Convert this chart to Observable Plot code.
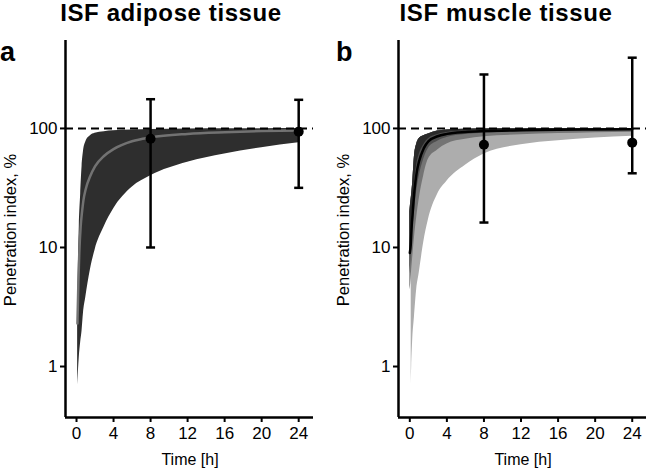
<!DOCTYPE html>
<html>
<head>
<meta charset="utf-8">
<script src="https://cdn.jsdelivr.net/npm/d3@7"></script>
<script src="https://cdn.jsdelivr.net/npm/@observablehq/plot@0.6"></script>
<style>
  html, body { margin: 0; padding: 0; background: #fff; }
  #wrap { position: relative; width: 649px; height: 473px; overflow: hidden; font-family: "Liberation Sans", Arial, sans-serif; }
  #wrap svg.panel { position: absolute; top: 0; }
  #labels { position: absolute; left: 0; top: 0; pointer-events: none; }
</style>
</head>
<body>
<div id="wrap"></div>
<script>
// ---------- data ----------
const xTicks = [0, 4, 8, 12, 16, 20, 24];
const yTicks = [1, 10, 100];
const yDomain = [0.373, 548];

const titles = ["ISF adipose tissue", "ISF muscle tissue"];
const panelLetters = ["a", "b"];
const yLabel = "Penetration index, %";
const xLabel = "Time [h]";

// Panel a: prediction band and median
const timeA   = [0.12, 0.2, 0.3, 0.45, 0.6, 0.75, 1, 1.5, 2, 3, 4, 6, 8, 12, 16, 20, 24];
const upperA  = [3, 7, 15, 28, 48, 64, 77, 87, 91, 94, 95.5, 97, 98, 98.8, 99.2, 99.5, 99.7];
const lowerA  = [0.7, 0.9, 1.2, 1.6, 2.0, 2.8, 3.8, 6.5, 9.5, 15, 21, 32, 40, 52, 61, 69, 76];
const timeMedA = [0.1, 0.2, 0.3, 0.45, 0.6, 0.75, 1, 1.5, 2, 3, 4, 6, 8, 12, 16, 20, 24];
const medianA  = [2.3, 5, 9, 15, 20, 25, 31, 40, 48, 59, 67, 78, 84, 90, 93, 95, 96];

// Panel a observations (mean, lower, upper)
const obsTimeA = [8, 24];
const obsMeanA = [82, 94];
const obsLowA  = [10, 31.7];
const obsHighA = [176, 174];

// Panel b: nested bands
const timeB   = [0, 0.1, 0.2, 0.3, 0.5, 0.75, 1, 1.5, 2, 3, 4, 6, 8, 12, 16, 20, 24];
const topB    = [20, 24, 28, 34, 58, 74, 82, 87, 90, 95, 97, 98.5, 99, 99.5, 99.7, 99.8, 99.9];
const darkLowB = [9, 11, 17, 22, 35, 50, 60, 73, 82, 89, 92.5, 95, 96, 97, 98, 98.5, 99];
const blackLineB = [9, 10.5, 15, 19, 30, 43, 53, 68, 78, 86, 90, 93.5, 95, 96.5, 97.5, 98, 98.5];
const midDarkLowB = [6, 7.5, 10, 13, 20, 30, 39, 55, 68, 78, 84, 89, 91, 94, 95.5, 96.5, 97];
const midLowB = [4.4, 5, 6.5, 8, 12, 18, 25, 40, 55, 66, 74, 81, 85, 88.5, 90.5, 92, 93];
const timeLightB = [0.15, 0.2, 0.3, 0.5, 0.75, 1, 1.5, 2, 3, 4, 6, 8, 12, 16, 20, 24];
const lightLowB  = [0.7, 1.0, 1.6, 2.6, 4.5, 6, 11, 17, 28, 36, 49, 61, 73, 79, 83, 86];
const lightTopB  = [20, 28, 34, 58, 74, 82, 87, 90, 95, 97, 98.5, 99, 99.5, 99.7, 99.8, 99.9];

// Panel b observations
const obsTimeB = [8, 24];
const obsMeanB = [73, 76];
const obsLowB  = [16.2, 42];
const obsHighB = [284, 393];

// ---------- helpers ----------
const zip = (t, cols) => t.map((v, i) => { const o = {t: v}; for (const k in cols) o[k] = cols[k][i]; return o; });

const capSymbol = {
  draw(context, size) {
    const r = Math.sqrt(size / Math.PI);
    context.moveTo(-r, 0);
    context.lineTo(r, 0);
  }
};

function commonMarks(xDomain, obs) {
  return [
    Plot.ruleY([100], {stroke: "#000", strokeWidth: 2, strokeDasharray: "8,5"}),
    Plot.ruleX(obs, {x: "t", y1: "lo", y2: "hi", stroke: "#000", strokeWidth: 2.5}),
    Plot.dot(obs, {x: "t", y: "lo", symbol: capSymbol, r: 4.5, stroke: "#000", strokeWidth: 2.5, fill: "none"}),
    Plot.dot(obs, {x: "t", y: "hi", symbol: capSymbol, r: 4.5, stroke: "#000", strokeWidth: 2.5, fill: "none"}),
    Plot.dot(obs, {x: "t", y: "mean", r: 5, fill: "#000", stroke: "none"}),
    Plot.ruleX([xDomain[0]], {stroke: "#000", strokeWidth: 2.5}),
    Plot.ruleY([yDomain[0]], {stroke: "#000", strokeWidth: 2.5}),
    Plot.axisX({ticks: xTicks, tickSize: 5, tickPadding: 4, tickFormat: d => String(d), fontSize: 17, label: null, strokeWidth: 2}),
    Plot.axisY({ticks: yTicks, tickSize: 5, tickPadding: 3, tickFormat: d => String(d), fontSize: 17, label: null, strokeWidth: 2})
  ];
}

function makePanel(opts, marks) {
  const svg = Plot.plot({
    width: opts.width,
    height: 473,
    marginLeft: opts.marginLeft,
    marginRight: opts.marginRight,
    marginTop: 40,
    marginBottom: 56,
    style: {fontFamily: '"Liberation Sans", Arial, sans-serif', fontSize: "17px", color: "#000", background: "transparent"},
    x: {domain: opts.xDomain},
    y: {type: "log", domain: yDomain},
    marks
  });
  svg.classList.add("panel");
  svg.style.left = opts.left + "px";
  return svg;
}

const wrap = document.getElementById("wrap");

// Panel a
const xDomA = [-1.19, 25.6];
const bandA = zip(timeA, {lo: lowerA, hi: upperA});
const medA = zip(timeMedA, {v: medianA});
const obsA = zip(obsTimeA, {mean: obsMeanA, lo: obsLowA, hi: obsHighA});
wrap.appendChild(makePanel({width: 324, left: 0, marginLeft: 65, marginRight: 11, xDomain: xDomA}, [
  Plot.areaY(bandA, {x: "t", y1: "lo", y2: "hi", fill: "#2e2e2e", curve: "monotone-x"}),
  Plot.lineY(medA, {x: "t", y: "v", stroke: "#727272", strokeWidth: 2.5, curve: "monotone-x"}),
  ...commonMarks(xDomA, obsA)
]));

// Panel b
const xDomB = [-1.22, 25.54];
const lightB = zip(timeLightB, {lo: lightLowB, hi: lightTopB});
const bandB = zip(timeB, {top: topB, dark: darkLowB, line: blackLineB, middark: midDarkLowB, mid: midLowB});
const obsB = zip(obsTimeB, {mean: obsMeanB, lo: obsLowB, hi: obsHighB});
wrap.appendChild(makePanel({width: 319, left: 330, marginLeft: 68, marginRight: 3, xDomain: xDomB}, [
  Plot.areaY(lightB, {x: "t", y1: "lo", y2: "hi", fill: "#adadad", curve: "monotone-x"}),
  Plot.areaY(bandB, {x: "t", y1: "mid", y2: "top", fill: "#747474", curve: "monotone-x"}),
  Plot.areaY(bandB, {x: "t", y1: "middark", y2: "top", fill: "#4e4e4e", curve: "monotone-x"}),
  Plot.areaY(bandB, {x: "t", y1: "dark", y2: "top", fill: "#2a2a2a", curve: "monotone-x"}),
  Plot.lineY(bandB, {x: "t", y: "line", stroke: "#000", strokeWidth: 2.5, curve: "monotone-x"}),
  ...commonMarks(xDomB, obsB)
]));

// Titles, panel letters and axis labels (real text)
const ns = "http://www.w3.org/2000/svg";
const lab = document.createElementNS(ns, "svg");
lab.setAttribute("id", "labels");
lab.setAttribute("width", 649);
lab.setAttribute("height", 473);
lab.style.fontFamily = '"Liberation Sans", Arial, sans-serif';
function addText(str, x, y, size, weight, anchor, rotate, spacing) {
  const t = document.createElementNS(ns, "text");
  t.textContent = str;
  t.setAttribute("x", x);
  t.setAttribute("y", y);
  t.setAttribute("font-size", size);
  t.setAttribute("font-weight", weight);
  t.setAttribute("text-anchor", anchor);
  t.setAttribute("fill", "#000");
  if (spacing) t.setAttribute("letter-spacing", spacing);
  if (rotate) t.setAttribute("transform", `rotate(-90 ${x} ${y})`);
  lab.appendChild(t);
}
addText(titles[0], 171, 21, 24, "bold", "middle", false, 0.6);
addText(titles[1], 506, 21, 24, "bold", "middle", false, 0.6);
addText(panelLetters[0], 0, 61, 27, "bold", "start");
addText(panelLetters[1], 336, 61, 27, "bold", "start");
addText(yLabel, 16, 230, 16.5, "normal", "middle", true);
addText(yLabel, 349, 230, 16.5, "normal", "middle", true);
addText(xLabel, 190, 465, 16, "normal", "middle");
addText(xLabel, 523, 465, 16, "normal", "middle");
wrap.appendChild(lab);
</script>
</body>
</html>
